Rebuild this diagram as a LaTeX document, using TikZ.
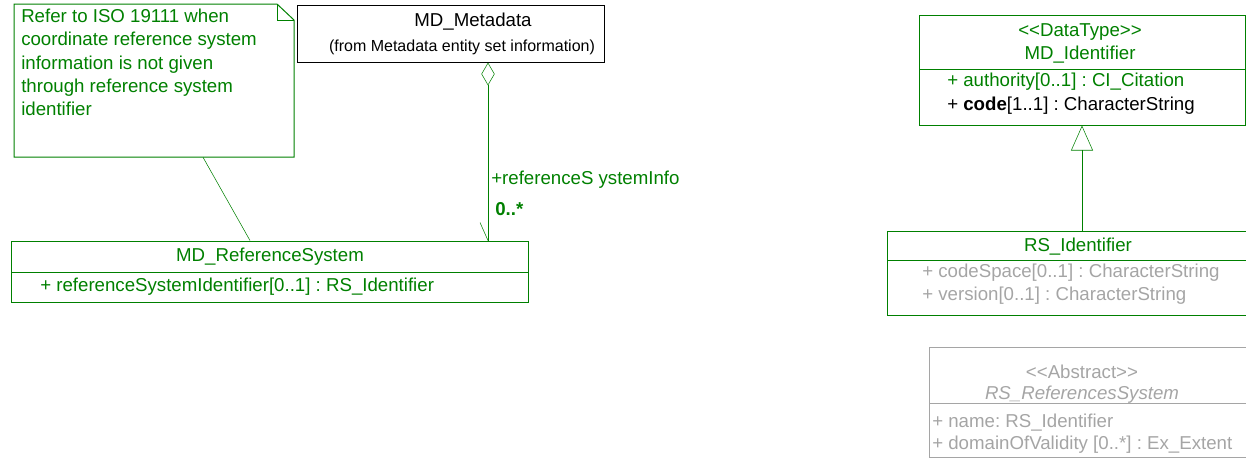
\documentclass[tikz,border=0pt]{standalone}
\usepackage{fontspec}
\setmainfont{Liberation Sans}
\usetikzlibrary{arrows.meta,fit}

\definecolor{umlgreen}{RGB}{0,128,0}
\definecolor{umlgrey}{RGB}{165,165,165}
\newcommand\stereo[1]{<\kern0pt<#1>\kern0pt>}
\frenchspacing

\tikzset{
  classbox/.style={draw, inner sep=0pt, line width=0.75pt},
  txt/.style={inner sep=0pt, font=\fontsize{14}{17}\selectfont},
  notetxt/.style={inner sep=0pt, font=\fontsize{14}{17.4}\selectfont},
  smalltxt/.style={inner sep=0pt, font=\fontsize{12}{14}\selectfont},
}

\begin{document}
\begin{tikzpicture}[x=0.75pt,y=0.75pt,yscale=-1]
\useasboundingbox (0,0) rectangle (1246,458);
\clip (0,0) rectangle (1246,458);

%Shape: Note [dog ear]
\draw [umlgreen, line width=0.75] (14,4) -- (277,4) -- (294,20) -- (294,157) -- (14,157) -- cycle ;
\draw [umlgreen, line width=0.75] (277,4) -- (277,20) -- (294,20) ;
\node [fit={(14,4) (294,157)}, inner sep=0pt] (note) {};
% Text Node
\node [notetxt, umlgreen, anchor=north west, align=left] (notetext) at (21,9) {Refer to ISO 19111 when\\coordinate reference system\\information is not given\\through reference system\\identifier};

%Shape: Class MD_Metadata
\node [classbox, fit={(297,5) (604,62)}] (meta) {};
% Text Node
\node [txt] (metaname) at (473,22) {MD\_Metadata};
% Text Node
\node [smalltxt] (metafrom) at (462,47) {(from Metadata entity set information)};

%Shape: Class MD_ReferenceSystem
\node [classbox, umlgreen, fit={(11,241) (528,302)}] (refsys) {};
\draw [umlgreen, line width=0.75] (11,272) -- (528,272) ;
% Text Node
\node [txt, umlgreen] (refsysname) at (270,257) {MD\_ReferenceSystem};
% Text Node
\node [txt, umlgreen, anchor=west] (refsysattr) at (40,287) {+ referenceSystemIdentifier[0..1] : RS\_Identifier};

%Straight Lines: note anchor
\coordinate (notefoot) at (203,0);
\coordinate (refsysfoot) at (250,0);
\draw [umlgreen] (note.south -| notefoot) -- (refsys.north -| refsysfoot) ;

%Straight Lines: aggregation
\coordinate (aggx) at (488,0);
\draw [umlgreen, {Diamond[open,length=17.25pt,width=10pt]}-] (meta.south -| aggx) -- (refsys.north -| aggx) ;
\draw [umlgreen] (refsys.north -| aggx) -- ++(-8,-18) ;
% Text Node
\node [txt, umlgreen, anchor=west] (rolename) at (491,180) {+referenceS ystemInfo};
% Text Node
\node [txt, umlgreen, anchor=west] (mult) at (495,209) {\bfseries 0..*};

%Shape: Class MD_Identifier
\node [classbox, umlgreen, fit={(919,15) (1245,125)}] (mdid) {};
\draw [umlgreen, line width=0.75] (919,69) -- (1245,69) ;
% Text Node
\node [txt, umlgreen] (mdidstereo) at (1080,32) {\stereo{DataType}};
% Text Node
\node [txt, umlgreen] (mdidname) at (1080,55) {MD\_Identifier};
% Text Node
\node [txt, umlgreen, anchor=west] (mdidauth) at (947,82) {+ authority[0..1] : CI\_Citation};
% Text Node
\node [txt, anchor=west] (mdidcode) at (947,106) {+ \textbf{code}[1..1] : CharacterString};

%Shape: Class RS_Identifier
\node [classbox, umlgreen, fit={(887,231) (1270,315)}] (rsid) {};
\draw [umlgreen, line width=0.75] (887,260) -- (1270,260) ;
% Text Node
\node [txt, umlgreen] (rsidname) at (1078,247) {RS\_Identifier};
% Text Node
\node [txt, umlgrey, anchor=west] (rsidspace) at (922,273) {+ codeSpace[0..1] : CharacterString};
% Text Node
\node [txt, umlgrey, anchor=west] (rsidversion) at (922,296) {+ version[0..1] : CharacterString};

%Straight Lines: generalization
\coordinate (genx) at (1082,0);
\draw [umlgreen, -{Triangle[open,length=18.75pt,width=16.5pt]}] (rsid.north -| genx) -- (mdid.south -| genx) ;

%Shape: Class RS_ReferencesSystem
\node [classbox, umlgrey, fit={(929,347) (1270,457)}] (rsabs) {};
\draw [umlgrey, line width=0.75] (929,403) -- (1270,403) ;
% Text Node
\node [txt, umlgrey] (rsabsstereo) at (1082,372) {\stereo{Abstract}};
% Text Node
\node [txt, umlgrey] (rsabsname) at (1082,395) {\itshape RS\_ReferencesSystem};
% Text Node
\node [txt, umlgrey, anchor=west] (rsabsname2) at (932,423) {+ name: RS\_Identifier};
% Text Node
\node [txt, umlgrey, anchor=west] (rsabsdomain) at (932,445) {+ domainOfValidity [0..*] : Ex\_Extent};

\end{tikzpicture}
\end{document}
